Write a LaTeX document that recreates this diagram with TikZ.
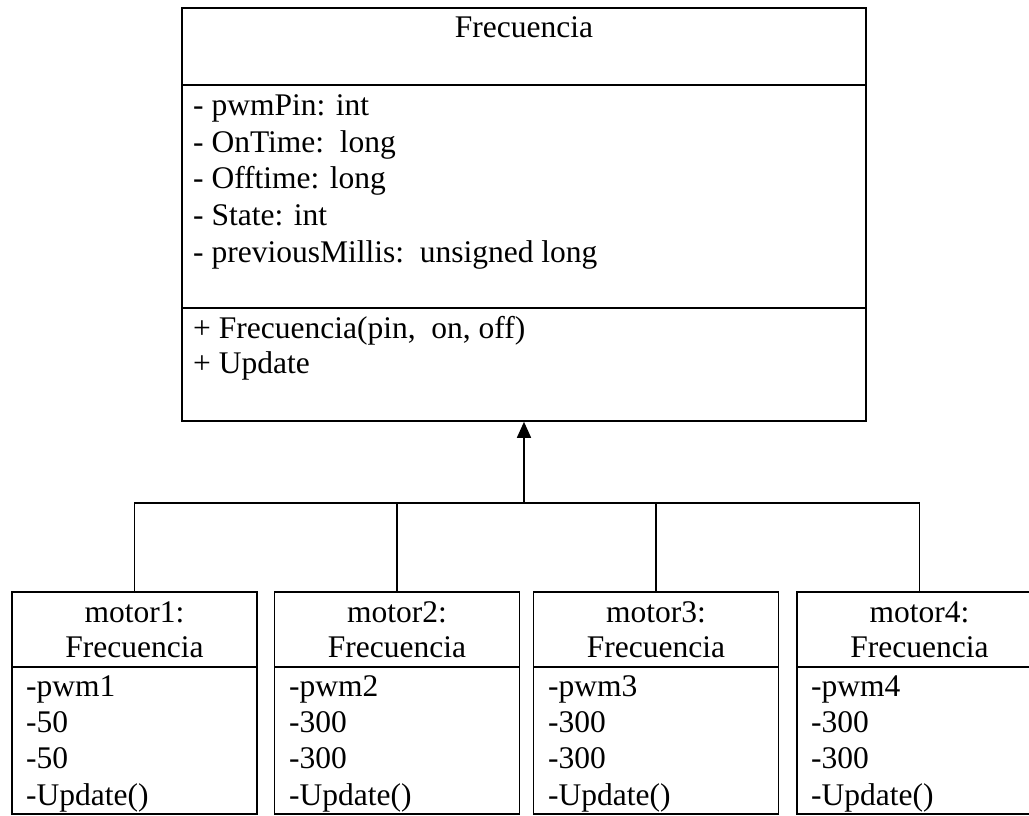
\documentclass[tikz,border=0pt]{standalone}
\usepackage{fontspec}
\setmainfont{Liberation Serif}
\usetikzlibrary{arrows.meta}

\begin{document}
\begin{tikzpicture}[x = 1pt, y = -1pt, font = \fontsize{31.5}{37}\selectfont]
	\tikzstyle{classStyle} = [draw, line width = 1.6pt, inner sep = 0pt, minimum width = 684pt]
	\tikzstyle{objectStyle} = [draw, line width = 1.6pt, inner sep = 0pt, minimum width = 245pt]
	\tikzstyle{titleStyle} = [anchor = base, inner sep = 0pt]
	\tikzstyle{lineStyle} = [anchor = base west, inner sep = 0pt]
	\tikzstyle{EdgeStyle} = [line width = 1.6pt]
	\useasboundingbox (0,0) rectangle (1029,816);
	\clip (0,0) rectangle (1029,816);
	% class Frecuencia
	\node[classStyle, minimum height = 77pt] (frecName) at (524,46.5) {};
	\node[classStyle, minimum height = 223pt] (frecAttr) at (524,196.5) {};
	\node[classStyle, minimum height = 113pt] (frecOps) at (524,364.5) {};
	\node[titleStyle] (frecTitle) at (524,38) {Frecuencia};
	\node[lineStyle] (attPin) at (193,115) {- pwmPin: int};
	\node[lineStyle] (attOn) at (193,152) {- OnTime:\ \ long};
	\node[lineStyle] (attOff) at (193,188) {- Offtime: long};
	\node[lineStyle] (attState) at (193,225) {- State: int};
	\node[lineStyle] (attMillis) at (193,262) {- previousMillis:\ \ unsigned long};
	\node[lineStyle] (opCtor) at (193,338) {+ Frecuencia(pin,\ \ on, off)};
	\node[lineStyle] (opUpdate) at (193,373) {+ Update};
	% objects
	\node[objectStyle, minimum height = 75pt] (m1Head) at (134.5,629.5) {};
	\node[objectStyle, minimum height = 147pt] (m1Body) at (134.5,740.5) {};
	\node[objectStyle, minimum height = 75pt] (m2Head) at (397,629.5) {};
	\node[objectStyle, minimum height = 147pt] (m2Body) at (397,740.5) {};
	\node[objectStyle, minimum height = 75pt] (m3Head) at (656,629.5) {};
	\node[objectStyle, minimum height = 147pt] (m3Body) at (656,740.5) {};
	\node[objectStyle, minimum height = 75pt] (m4Head) at (919.5,629.5) {};
	\node[objectStyle, minimum height = 147pt] (m4Body) at (919.5,740.5) {};
	\node[titleStyle] (m1Name) at (134.5,622) {motor1:};
	\node[titleStyle] (m1Type) at (134.5,657) {Frecuencia};
	\node[titleStyle] (m2Name) at (397,622) {motor2:};
	\node[titleStyle] (m2Type) at (397,657) {Frecuencia};
	\node[titleStyle] (m3Name) at (656,622) {motor3:};
	\node[titleStyle] (m3Type) at (656,657) {Frecuencia};
	\node[titleStyle] (m4Name) at (919.5,622) {motor4:};
	\node[titleStyle] (m4Type) at (919.5,657) {Frecuencia};
	\node[lineStyle] (m1Pin) at (26,696) {-pwm1};
	\node[lineStyle] (m1On) at (26,732) {-50};
	\node[lineStyle] (m1Off) at (26,768) {-50};
	\node[lineStyle] (m1Upd) at (26,805) {-Update()};
	\node[lineStyle] (m2Pin) at (289,696) {-pwm2};
	\node[lineStyle] (m2On) at (289,732) {-300};
	\node[lineStyle] (m2Off) at (289,768) {-300};
	\node[lineStyle] (m2Upd) at (289,805) {-Update()};
	\node[lineStyle] (m3Pin) at (548,696) {-pwm3};
	\node[lineStyle] (m3On) at (548,732) {-300};
	\node[lineStyle] (m3Off) at (548,768) {-300};
	\node[lineStyle] (m3Upd) at (548,805) {-Update()};
	\node[lineStyle] (m4Pin) at (811,696) {-pwm4};
	\node[lineStyle] (m4On) at (811,732) {-300};
	\node[lineStyle] (m4Off) at (811,768) {-300};
	\node[lineStyle] (m4Upd) at (811,805) {-Update()};
	% generalization
	\coordinate (bus) at (524,503);
	\draw[EdgeStyle] (m1Head.north) |- (bus) -| (m4Head.north);
	\draw[EdgeStyle] (m2Head.north) -- (m2Head.north |- bus);
	\draw[EdgeStyle] (m3Head.north) -- (m3Head.north |- bus);
	\draw[EdgeStyle, -{Triangle[width = 14pt, length = 16pt]}] (bus) -- (frecOps.south);
\end{tikzpicture}
\end{document}
